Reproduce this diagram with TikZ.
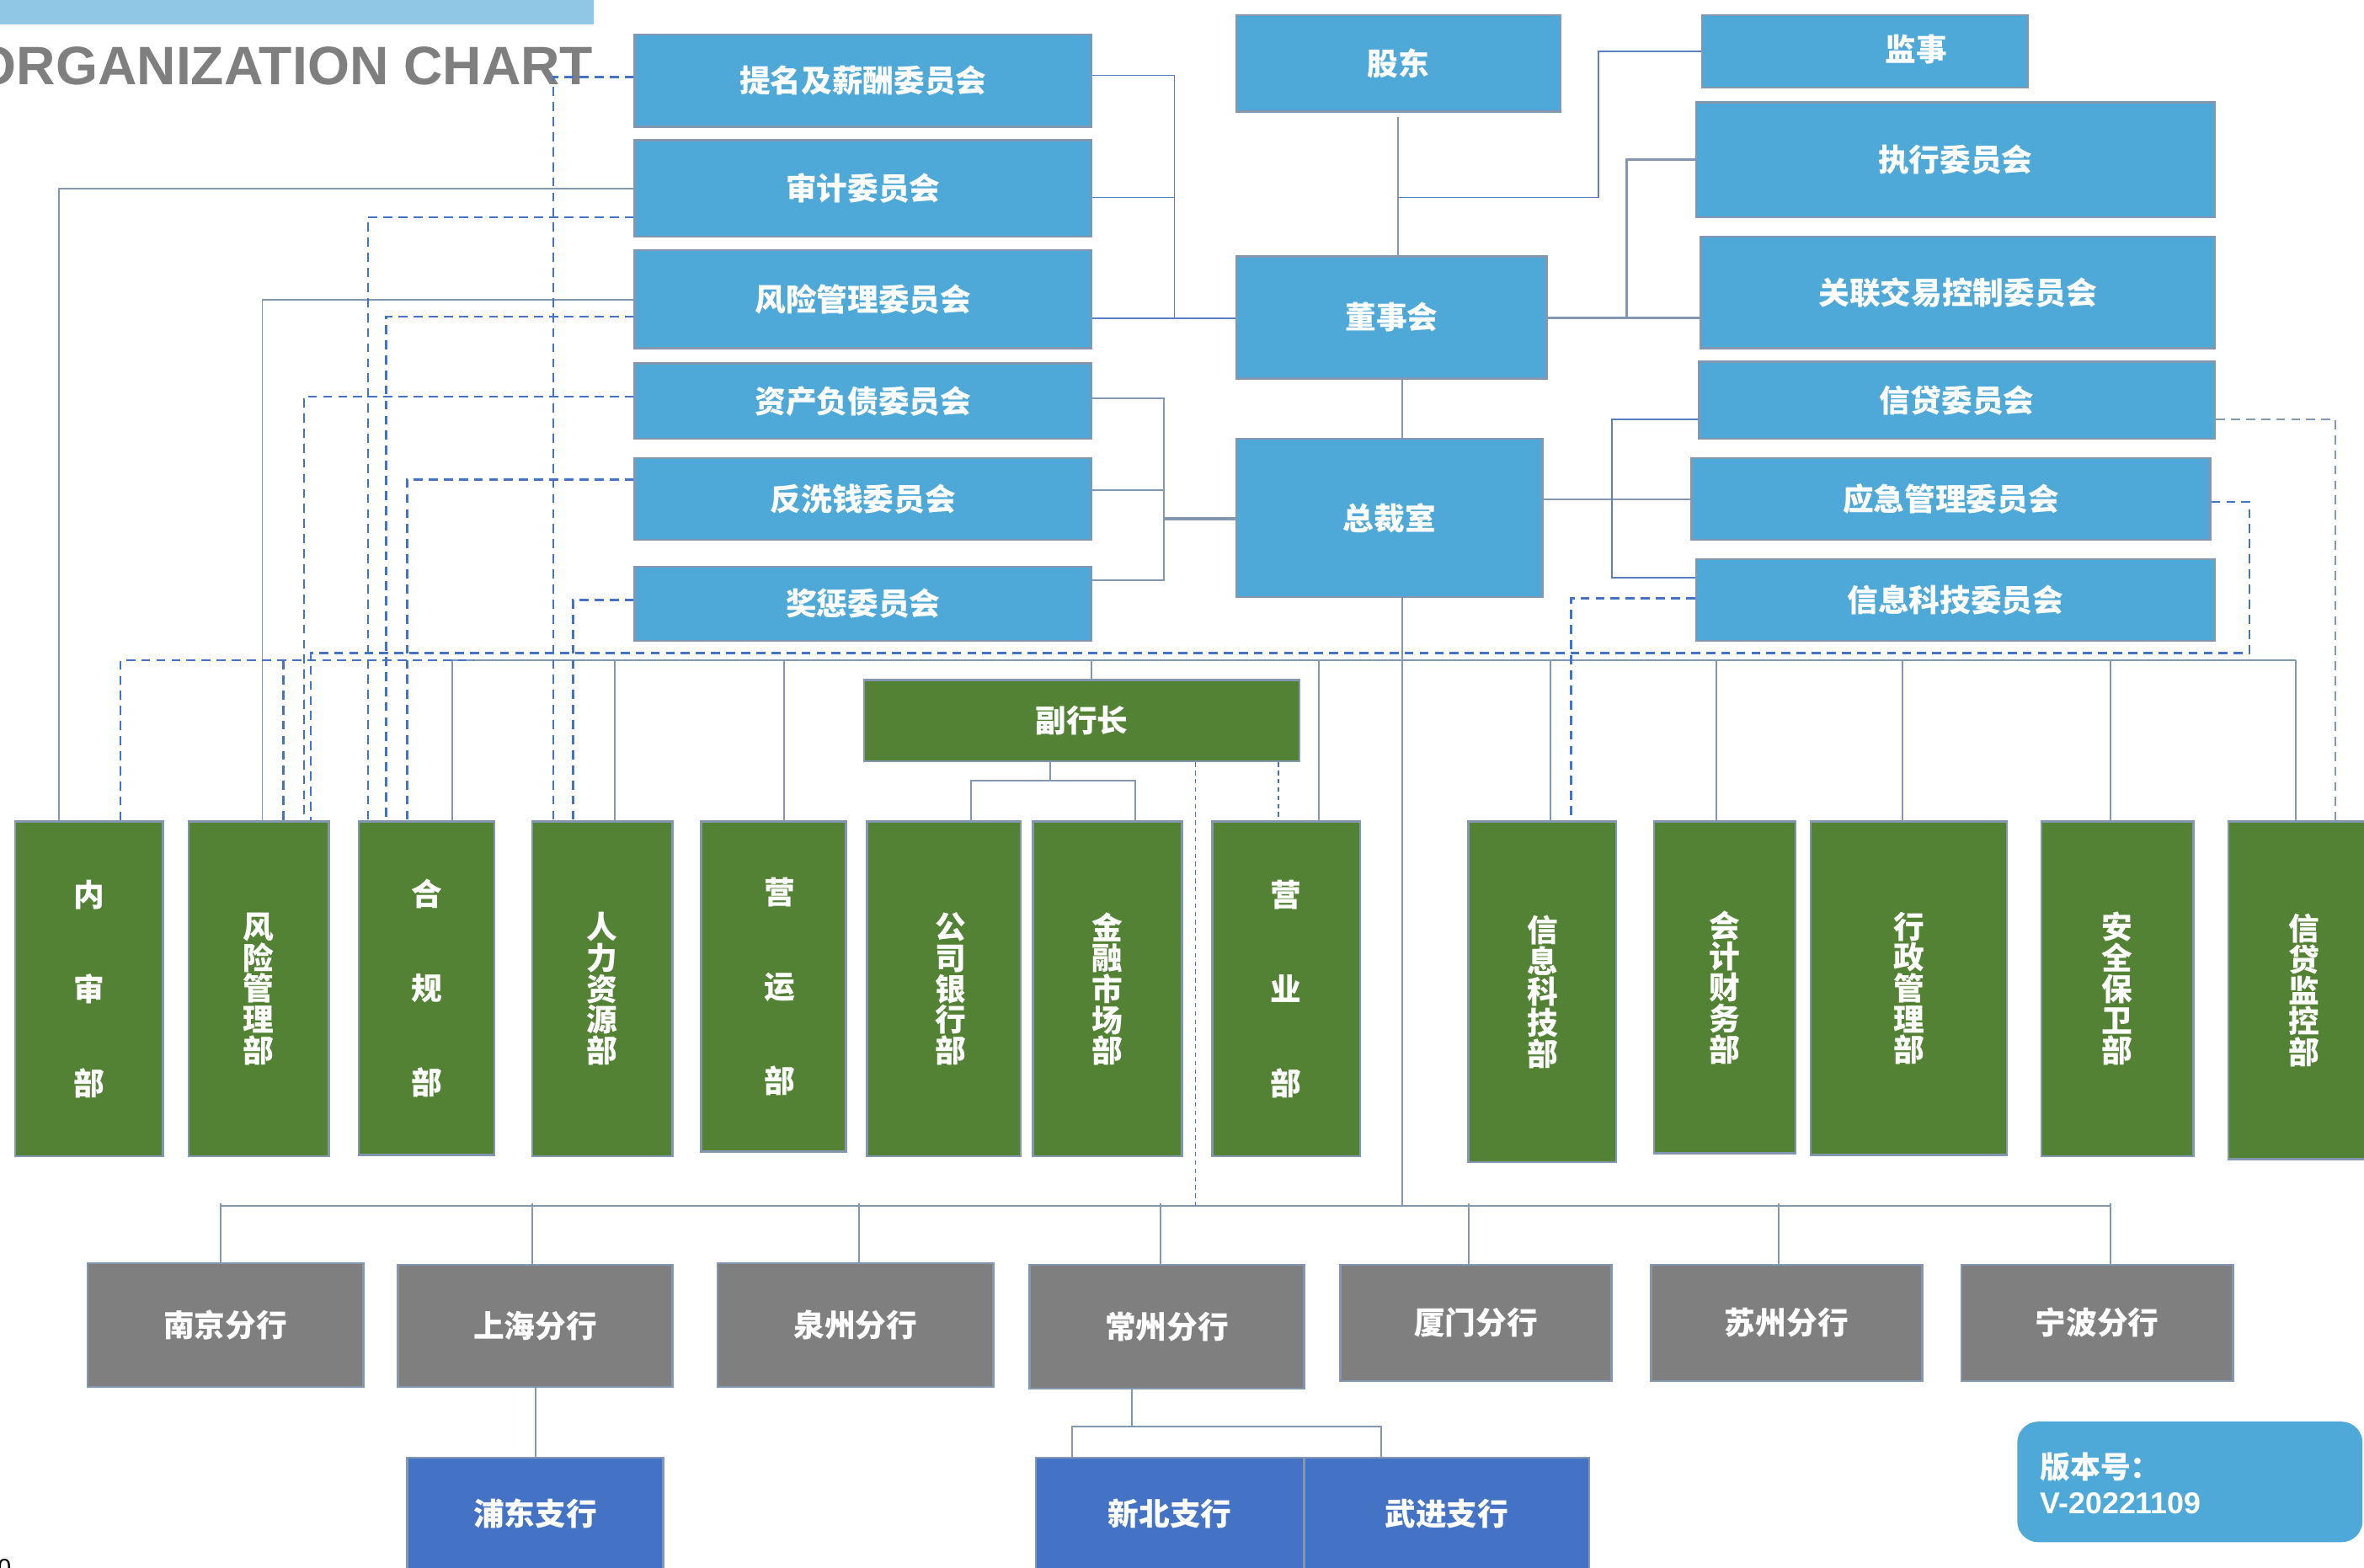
\documentclass[tikz,border=0pt]{standalone}
\usepackage{fontspec}
\setmainfont{Liberation Sans}
\newfontfamily\cjk{Noto Sans CJK SC}
\usetikzlibrary{backgrounds}
\definecolor{cblue}{HTML}{4FA9D8}
\definecolor{dgreen}{HTML}{548235}
\definecolor{brgray}{HTML}{7F7F7F}
\definecolor{sbblue}{HTML}{4472C4}
\definecolor{bordc}{HTML}{8497B0}
\definecolor{lnc}{HTML}{8497B0}
\definecolor{lnblue}{HTML}{5B7FC4}
\definecolor{dshc}{HTML}{4472C4}
\definecolor{barc}{HTML}{8FC7E5}
\definecolor{titc}{HTML}{7F7F7F}
\newcommand\mkbox[7]{\node[#6, minimum width={#4pt-#2pt}, minimum height={#5pt-#3pt}] (#1) at ({(#2+#4)/2},{(#3+#5)/2}) {#7};}
\newcommand\sh[1]{\hspace*{#1pt}}
\tikzset{
  box/.style={draw=bordc, line width=1.4pt, inner sep=0pt, text=white, align=center,
    font=\cjk\bfseries\fontsize{20.5}{20.5}\selectfont},
  cbox/.style={box, fill=cblue},
  gbox/.style={box, fill=dgreen},
  gsbox/.style={box, fill=dgreen, font=\cjk\bfseries\fontsize{20.5}{62.5}\selectfont},
  brbox/.style={box, fill=brgray},
  sbbox/.style={box, fill=sbblue},
  ln/.style={draw=lnc, line width=1.1pt},
  lnb/.style={draw=lnblue, line width=1pt},
  dsh/.style={draw=dshc, line width=1.4pt, dash pattern=on 6pt off 4pt},
  dshg/.style={draw=lnc, line width=1.3pt, dash pattern=on 6pt off 4pt},
  dshthin/.style={draw=dshc, line width=0.9pt, dash pattern=on 3pt off 2.5pt},
}
\begin{document}
\begin{tikzpicture}[x=1pt,y=-1pt]
\useasboundingbox (0,0) rectangle (1568,1040);
% committees left
\mkbox{L1}{421}{23}{724}{84}{cbox}{提名及薪酬委员会}
\mkbox{L2}{421}{93}{724}{157}{cbox}{审计委员会}
\mkbox{L3}{421}{166}{724}{231}{cbox}{风险管理委员会}
\mkbox{L4}{421}{241}{724}{291}{cbox}{资产负债委员会}
\mkbox{L5}{421}{304}{724}{358}{cbox}{反洗钱委员会}
\mkbox{L6}{421}{376}{724}{425}{cbox}{奖惩委员会}
% center and right
\mkbox{gudong}{820}{10}{1035}{74}{cbox}{股东}
\mkbox{jianshi}{1129}{10}{1345}{58}{cbox}{}
\node[inner sep=0pt, text=white, font=\cjk\bfseries\fontsize{20.5}{20.5}\selectfont] (jianshit) at (1271,33) {监事};
\mkbox{zhixing}{1125}{68}{1469}{144}{cbox}{执行委员会}
\mkbox{guanlian}{1128}{157}{1469}{231}{cbox}{关联交易控制委员会}
\mkbox{dongshi}{820}{170}{1026}{251}{cbox}{董事会}
\mkbox{xindai}{1127}{240}{1469}{291}{cbox}{信贷委员会}
\mkbox{zongcai}{820}{291}{1023}{396}{cbox}{总裁室}
\mkbox{yingji}{1122}{304}{1466}{358}{cbox}{应急管理委员会}
\mkbox{xinxi}{1125}{371}{1469}{425}{cbox}{信息科技委员会}
% vice president
\mkbox{fuhang}{573}{451}{862}{505}{gbox}{副行长}
% departments
\mkbox{D1}{10}{545}{108}{767}{gsbox}{内\\审\\部}
\mkbox{D2}{125}{545}{218}{767}{gbox}{风\\险\\管\\理\\部}
\mkbox{D3}{238}{545}{328}{766}{gsbox}{合\\规\\部}
\mkbox{D4}{353}{545}{446}{767}{gbox}{人\\力\\资\\源\\部}
\mkbox{D5}{465}{545}{561}{764}{gsbox}{\sh{8}营\\\sh{8}运\\\sh{8}部}
\mkbox{D6}{575}{545}{677}{767}{gbox}{\sh{9}公\\\sh{9}司\\\sh{9}银\\\sh{9}行\\\sh{9}部}
\mkbox{D7}{685}{545}{784}{767}{gbox}{金\\融\\市\\场\\部}
\mkbox{D8}{804}{545}{902}{767}{gsbox}{营\\业\\部}
\mkbox{D9}{974}{545}{1072}{771}{gbox}{信\\息\\科\\技\\部}
\mkbox{D10}{1097}{545}{1191}{765}{gbox}{会\\计\\财\\务\\部}
\mkbox{D11}{1201}{545}{1331}{766}{gbox}{行\\政\\管\\理\\部}
\mkbox{D12}{1354}{545}{1455}{767}{gbox}{安\\全\\保\\卫\\部}
\mkbox{D13}{1478}{545}{1578}{769}{gbox}{信\\贷\\监\\控\\部}
% branches
\mkbox{B1}{58}{838}{241}{920}{brbox}{南京分行}
\mkbox{B2}{264}{839}{446}{920}{brbox}{上海分行}
\mkbox{B3}{476}{838}{659}{920}{brbox}{泉州分行}
\mkbox{B4}{683}{839}{865}{921}{brbox}{常州分行}
\mkbox{B5}{889}{839}{1069}{916}{brbox}{厦门分行}
\mkbox{B6}{1095}{839}{1275}{916}{brbox}{苏州分行}
\mkbox{B7}{1301}{839}{1481}{916}{brbox}{宁波分行}
% sub-branches
\mkbox{S1}{270}{967}{440}{1041}{sbbox}{浦东支行}
\mkbox{S2}{687}{967}{865}{1041}{sbbox}{新北支行}
\mkbox{S3}{865}{967}{1054}{1041}{sbbox}{武进支行}
% version
\node[fill=cblue, rounded corners=14pt, minimum width=229pt, minimum height=80pt, inner sep=0pt] (ver) at (1452.5,983) {};
\node[anchor=base west, inner sep=0pt, text=white, font=\cjk\bfseries\fontsize{20}{20}\selectfont] (verl1) at (1353,980.5) {版本号：};
\node[anchor=base west, inner sep=0pt, text=white, font=\bfseries\fontsize{20}{20}\selectfont] (verl2) at (1353,1004) {V-20221109};
% stray glyph
\node[anchor=north, inner sep=0pt, font=\fontsize{16}{16}\selectfont] (pg) at (3,1034) {0};

\begin{pgfonlayer}{background}
\fill[barc] (0,0) rectangle (394,16.4);
\node[anchor=base west, inner sep=0pt, text=titc, font=\bfseries\fontsize{35.9}{36}\selectfont] (title) at (-17,56.4) {ORGANIZATION CHART};
% top connectors
\coordinate (j1) at (779,211);
\draw[lnb] (L1.east |- 0,50) -| (j1) -- (dongshi.west |- j1);
\draw[lnb] (L2.east |- 0,131) -- (779,131);
\draw[lnb] (L3.east |- j1) -- (j1);
\draw[ln] (gudong.south -| 927.5,0) ++(0,3) -- (dongshi.north -| 927.5,0);
\draw[lnb] (jianshi.west |- 0,34) -| (1060,131) -- (gudong.south |- 0,131);
\draw[ln, line width=1.6pt] (dongshi.east |- j1) -- (guanlian.west |- j1);
\draw[ln, line width=1.6pt] (1079,211) |- (zhixing.west |- 0,106);
\draw[ln] (dongshi.south -| 930,0) -- (zongcai.north -| 930,0);
\draw[ln] (zongcai.east |- 0,331) -- (yingji.west |- 0,331);
\draw[lnb] (xindai.west |- 0,278) -| (1069,383) -- (xinxi.west |- 0,383);
\draw[ln] (L4.east |- 0,264) -| (772,385) -- (L6.east |- 0,385);
\draw[ln] (L5.east |- 0,325) -- (772,325);
\draw[ln, line width=2.4pt] (772,344) -- (zongcai.west |- 0,344);
% solid to departments
\draw[ln] (L2.west |- 0,125) -| (D1.north -| 39,0);
\draw[ln] (L3.west |- 0,199) -| (D2.north -| 174,0);
% central bus
\draw[ln] (zongcai.south -| 930,0) -- (930,800);
\draw[ln] (300,438) -- (1523,438);
\foreach \x/\n in {300/D3, 408/D4, 520/D5, 875/D8, 1028.5/D9, 1138.5/D10, 1262/D11, 1400/D12, 1523/D13}
  \draw[ln] (\x,438) -- (\n.north -| \x,0);
\draw[ln] (724,438) -- (fuhang.north -| 724,0);
\draw[ln] (fuhang.south -| 696.6,0) -- (696.6,518);
\draw[ln] (D6.north -| 644,0) |- (753,518) -- (D7.north -| 753,0);
% branch bus
\draw[ln] (146.5,800) -- (1400,800);
\foreach \x/\n in {146.5/B1, 353/B2, 570/B3, 770/B4, 974/B5, 1180/B6, 1400/B7}
  \draw[ln] (\x,798) -- (\n.north -| \x,0);
\draw[ln] (B2.south -| 355,0) -- (S1.north -| 355,0);
\draw[ln] (B4.south -| 751,0) -- (751,946);
\draw[ln] (S2.north -| 711,0) |- (916,946) -- (S3.north -| 916,0);
% dashed
\draw[dsh] (L1.west |- 0,51) -| (D4.north -| 367,0);
\draw[dsh] (L2.west |- 0,144) -| (D3.north -| 244,0);
\draw[dsh] (L3.west |- 0,210) -| (D3.north -| 256,0);
\draw[dsh] (L4.west |- 0,263) -| (D2.north -| 201.6,0);
\draw[dsh] (L5.west |- 0,318) -| (D3.north -| 270,0);
\draw[dsh] (L6.west |- 0,398) -| (D4.north -| 380,0);
\draw[dsh] (yingji.east |- 0,333) -| (1492,433.3) -| (D2.north -| 206,0);
\draw[dshg] (xindai.east |- 0,278) -| (D13.north -| 1549,0);
\draw[dsh] (xinxi.west |- 0,397) -| (D9.north -| 1042,0);
\draw[dshthin] (fuhang.south -| 793,0) -- (793,800);
\draw[dshthin] (fuhang.south -| 848,0) -- (D8.north -| 848,0);
\coordinate (dfree) at (314,438);
\draw[dsh] (D1.north -| 80,0) |- (dfree);
\draw[dsh] (188,438) -- (D2.north -| 188,0);
\end{pgfonlayer}
\end{tikzpicture}
\end{document}
